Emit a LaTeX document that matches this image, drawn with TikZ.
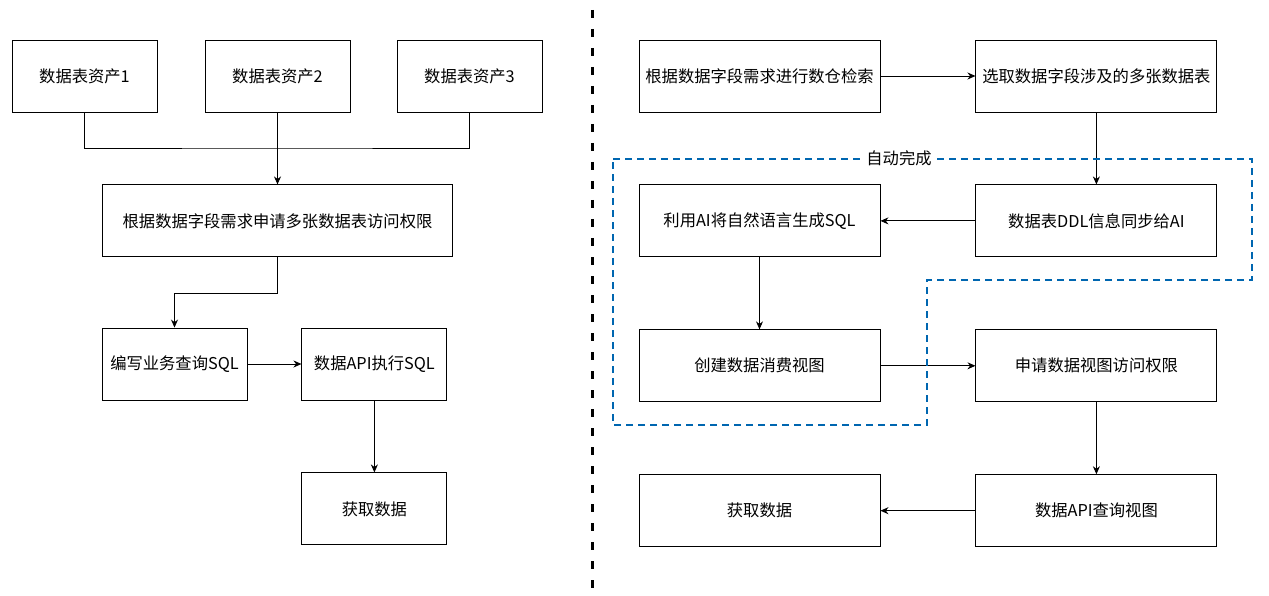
\documentclass[tikz,border=0pt]{standalone}
\usepackage{fontspec}
\newfontfamily\cjk{Noto Sans CJK SC}
\usetikzlibrary{positioning, arrows.meta}
\definecolor{autoblue}{HTML}{0066B0}

\begin{document}
\begin{tikzpicture}[x=1pt, y=-1pt, line width=0.9pt, >={Stealth[length=8pt, width=7pt]},
    font=\cjk\fontsize{16.3}{19}\selectfont, node distance = 72pt,
    box/.style={draw, rectangle, minimum width=145pt, minimum height=72pt, inner sep=0pt},
    widebox/.style={box, minimum width=241pt}]
  \useasboundingbox (0,0) rectangle (1269,596);

  \node[box] at (84.5, 76) (asset1) {数据表资产1};
  \node[box] at (277.5, 76) (asset2) {数据表资产2};
  \node[box] at (469.5, 76) (asset3) {数据表资产3};
  \node[box, minimum width=350pt, below = of asset2] (apply) {根据数据字段需求申请多张数据表访问权限};
  \node[box] at (174.5, 364) (write) {编写业务查询SQL};
  \node[box, right = 54pt of write] (exec) {数据API执行SQL};
  \node[box, below = of exec] (fetch) {获取数据};
  \coordinate (merge) at (277.5, 148);

  \draw (asset1.south) |- (merge) -| (asset3.south);
  \draw[->] (asset2) -- (apply);
  \draw[->] (apply.south) -- ++(0, 36) -| (write.north);
  \draw[->] (write) -- (exec);
  \draw[->] (exec) -- (fetch);

  \coordinate (divtop) at (592, 10);
  \coordinate (divbot) at (592, 590);
  \draw[line width=3pt, dash pattern=on 8pt off 11pt] (divtop) -- (divbot);

  \node[widebox] at (759.5, 76) (search) {根据数据字段需求进行数仓检索};
  \node[widebox, right = 95pt of search] (pick) {选取数据字段涉及的多张数据表};
  \node[widebox, below = of pick] (sync) {数据表DDL信息同步给AI};
  \node[widebox, below = of search] (gensql) {利用AI将自然语言生成SQL};
  \node[widebox, below = of gensql] (view) {创建数据消费视图};
  \node[widebox, below = of sync] (grant) {申请数据视图访问权限};
  \node[widebox, below = of grant] (query) {数据API查询视图};
  \node[widebox, below = of view] (fetchview) {获取数据};

  \draw[->] (search) -- (pick);
  \draw[->] (pick) -- (sync);
  \draw[->] (sync) -- (gensql);
  \draw[->] (gensql) -- (view);
  \draw[->] (view) -- (grant);
  \draw[->] (grant) -- (query);
  \draw[->] (query) -- (fetchview);

  \draw[autoblue, line width=2pt, dash pattern=on 7pt off 5pt]
    (613, 159) -- (1252, 159) -- (1252, 280) -- (927, 280) -- (927, 425) -- (613, 425) -- cycle;
  \node[fill=white, inner sep=1pt] at (899, 158) (autolabel) {自动完成};
\end{tikzpicture}
\end{document}
